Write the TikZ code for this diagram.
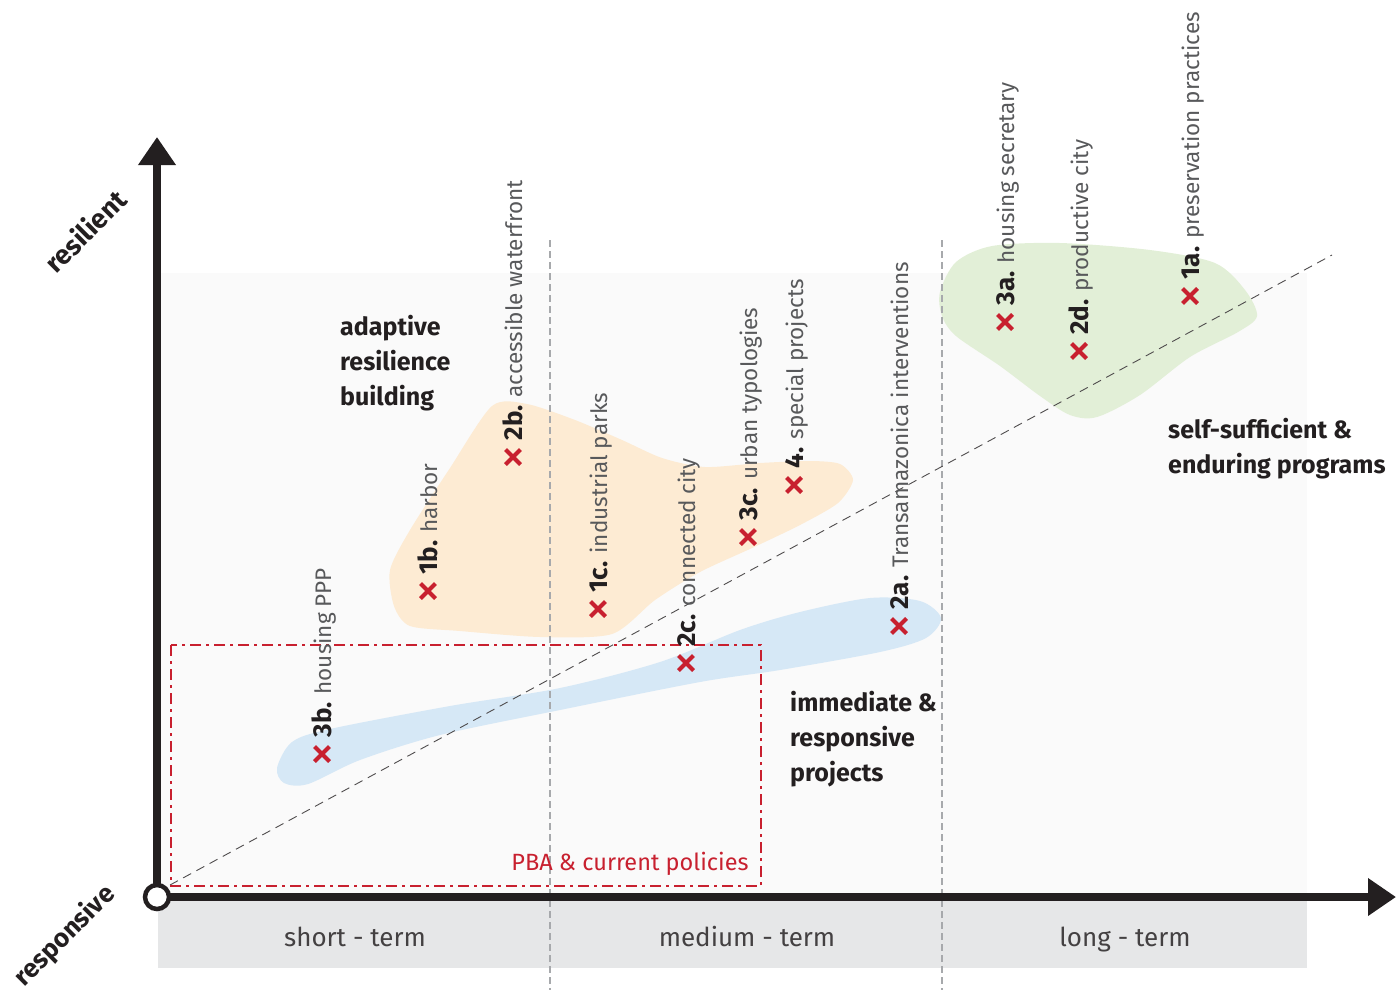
\documentclass[tikz,border=0pt]{standalone}
\usepackage{fontspec}
\setmainfont{Fira Sans}
\usetikzlibrary{arrows.meta,shapes.misc}
\definecolor{plotbg}{HTML}{FAFAFA}
\definecolor{bandgray}{HTML}{E6E7E8}
\definecolor{orangeblob}{HTML}{FDEBD3}
\definecolor{blueblob}{HTML}{D6E8F6}
\definecolor{greenblob}{HTML}{E2EFD7}
\definecolor{xred}{HTML}{C8202F}
\definecolor{labgray}{HTML}{58595B}
\definecolor{dark}{HTML}{231F20}
\definecolor{divgray}{HTML}{A7A9AC}
\tikzset{
  axisline/.style={draw=dark, line width=8pt, -{Triangle[length=28pt,width=36pt]}},
  xmark/.style={cross out, draw=xred, line width=4pt, minimum size=11pt, inner sep=0pt},
  lab/.style={xshift=9pt, yshift=9pt, rotate=90, anchor=base west, inner sep=0pt, font=\fontsize{22.5}{23}\selectfont, text=labgray},
  blocktext/.style={anchor=north west, align=left, inner sep=0pt, text=dark, font=\fontsize{25}{35}\selectfont\bfseries},
  termtext/.style={anchor=base, inner sep=0pt, text=dark!85, font=\fontsize{26}{26}\selectfont},
  divider/.style={draw=divgray, line width=1.2pt, dash pattern=on 7pt off 4pt},
  diag/.style={draw=dark!80, line width=0.9pt, dash pattern=on 9pt off 6pt},
  pba/.style={draw=xred, line width=2.6pt, dash pattern=on 11pt off 5pt on 3pt off 5pt},
  axistitle/.style={rotate=45, inner sep=0pt, text=dark, font=\fontsize{27}{27}\selectfont\bfseries},
}
\newcommand{\num}[1]{{\color{dark}\fontsize{26}{26}\selectfont\bfseries #1}}
\begin{document}
\begin{tikzpicture}[x=1pt,y=-1pt]
\useasboundingbox (0,0) rectangle (1396,994);
% backgrounds
\fill[plotbg] (158,273) rectangle (1307,897);
\fill[bandgray] (158,900) rectangle (1307,968);
% blobs
\fill[orangeblob] plot[smooth cycle, tension=0.45] coordinates {
  (492,406) (527,404) (575,420) (622,440) (662,458) (705,467) (760,463) (810,461) (840,464) (853,480)
  (838,503) (800,525) (752,548) (700,572) (655,600) (612,634) (540,637) (460,631) (410,626)
  (394,606) (390,570) (410,530) (450,468)};
\fill[blueblob] plot[smooth cycle, tension=0.5] coordinates {
  (277,768) (292,742) (330,729) (450,706) (560,688) (660,662) (740,630) (800,612) (870,598)
  (920,601) (941,618) (926,638) (880,652) (780,670) (700,682) (560,710) (440,735) (360,760)
  (308,784) (284,783)};
\fill[greenblob] plot[smooth cycle, tension=0.5] coordinates {
  (940,292) (956,262) (992,246) (1060,243) (1150,250) (1215,263) (1245,290) (1257,316)
  (1238,332) (1190,357) (1140,395) (1097,417) (1070,415) (1040,396) (1000,366) (956,336) (942,316)};
% dividers and diagonal
\coordinate (d1t) at (550,240); \coordinate (d1b) at (550,990);
\coordinate (d2t) at (942,240); \coordinate (d2b) at (942,990);
\draw[divider] (d1t) -- (d1b);
\draw[divider] (d2t) -- (d2b);
\coordinate (diagA) at (170,885); \coordinate (diagB) at (1332,255);
\draw[diag] (diagA) -- (diagB);
% PBA box
\coordinate (pbaA) at (171,645); \coordinate (pbaB) at (761,886);
\draw[pba] (pbaA) rectangle (pbaB);
\node[inner sep=0pt, text=xred, font=\fontsize{23.5}{24}\selectfont] (pbatext) at (630,864) {PBA \& current policies};
% axes
\coordinate (O) at (157,897);
\coordinate (ytip) at (157,137);
\coordinate (xtip) at (1396,897);
\draw[axisline] (O) -- (ytip);
\draw[axisline] (O) -- (xtip);
\node[circle, draw=dark, fill=white, line width=4.5pt, minimum size=24pt, inner sep=0pt] (orig) at (O) {};
% axis titles
\node[axistitle] (resil) at (85,231) {resilient};
\node[axistitle, font=\fontsize{26}{26}\selectfont\bfseries] (respo) at (65,936) {responsive};
% terms
\node[termtext] (short) at (355,946) {short - term};
\node[termtext] (medium) at (747,946) {medium - term};
\node[termtext] (long) at (1125,946) {long - term};
% block texts
\node[blocktext] (adapt) at (340,315) {adaptive\\resilience\\building};
\node[blocktext] (immed) at (790,691) {immediate \&\\responsive\\projects};
\node[blocktext] (selfs) at (1168,418) {self-sufficient \&\\enduring programs};
% markers
\node[xmark] (m3b) at (322,754) {};
\node[xmark] (m1b) at (428,591) {};
\node[xmark] (m2b) at (513,457) {};
\node[xmark] (m1c) at (598,609) {};
\node[xmark] (m2c) at (686,663) {};
\node[xmark] (m3c) at (748,537) {};
\node[xmark] (m4) at (794,485) {};
\node[xmark] (m2a) at (899,626) {};
\node[xmark] (m3a) at (1005,322) {};
\node[xmark] (m2d) at (1079,351) {};
\node[xmark] (m1a) at (1190,296) {};
% labels
\node[lab] (l3b) at (m3b.north) {\num{3b.} housing PPP};
\node[lab] (l1b) at (m1b.north) {\num{1b.} harbor};
\node[lab] (l2b) at (m2b.north) {\num{2b.} accessible waterfront};
\node[lab] (l1c) at (m1c.north) {\num{1c.} industrial parks};
\node[lab] (l2c) at (m2c.north) {\num{2c.} connected city};
\node[lab] (l3c) at (m3c.north) {\num{3c.} urban typologies};
\node[lab] (l4) at (m4.north) {\num{4.} special projects};
\node[lab] (l2a) at (m2a.north) {\num{2a.} Transamazonica interventions};
\node[lab] (l3a) at (m3a.north) {\num{3a.} housing secretary};
\node[lab] (l2d) at (m2d.north) {\num{2d.} productive city};
\node[lab] (l1a) at (m1a.north) {\num{1a.} preservation practices};
\end{tikzpicture}
\end{document}
